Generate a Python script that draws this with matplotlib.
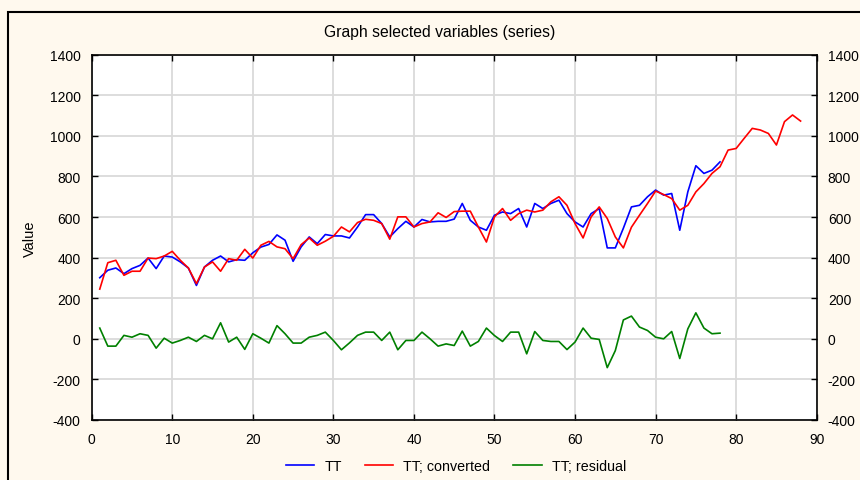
import matplotlib
matplotlib.use("Agg")
import matplotlib.pyplot as plt
from matplotlib.patches import Rectangle

x_max_ticks = [0, 10, 20, 30, 40, 50, 60, 70, 80, 90]
y_ticks = [-400, -200, 0, 200, 400, 600, 800, 1000, 1200, 1400]

tt = [301, 338, 349, 321, 346, 362, 398, 346, 408, 403,
      379, 349, 263, 354, 387, 408, 379, 390, 387, 424,
      452, 465, 512, 486, 382, 453, 502, 469, 514, 507,
      507, 497, 551, 612, 612, 568, 502, 543, 579, 551,
      588, 576, 579, 579, 590, 667, 584, 551, 535, 609,
      625, 617, 642, 551, 667, 642, 667, 683, 617, 576,
      551, 617, 642, 448, 448, 545, 650, 658, 700, 733,
      708, 716, 535, 724, 853, 815, 831, 872]

tt_converted = [245, 375, 387, 313, 333, 333, 398, 395, 408, 431,
                387, 349, 272, 354, 379, 333, 395, 387, 441, 398,
                461, 480, 453, 444, 395, 464, 497, 461, 481, 505,
                551, 527, 573, 589, 584, 568, 491, 601, 601, 551,
                568, 576, 621, 598, 627, 629, 629, 551, 477, 601,
                642, 584, 617, 634, 625, 634, 675, 700, 658, 568,
                497, 601, 650, 593, 502, 448, 550, 609, 667, 728,
                711, 691, 634, 658, 724, 765, 815, 848, 930, 938,
                988, 1037, 1029, 1012, 955, 1070, 1103, 1073]

tt_residual = [53, -36, -36, 17, 8, 25, 17, -46, 3, -21,
               -8, 8, -13, 17, 0, 79, -16, 8, -52, 25,
               3, -21, 65, 25, -21, -21, 8, 17, 33, -8,
               -54, -20, 17, 33, 33, -8, 33, -54, -8, -8,
               33, 0, -36, -25, -33, 38, -36, -13, 53, 16,
               -13, 33, 33, -74, 36, -8, -13, -13, -53, -16,
               53, 3, -3, -142, -58, 93, 112, 58, 41, 8,
               0, 36, -97, 49, 128, 53, 25, 28]

x_tt = list(range(1, len(tt) + 1))
x_conv = list(range(1, len(tt_converted) + 1))
x_res = list(range(1, len(tt_residual) + 1))

plt.rcParams["font.family"] = ["Liberation Sans", "DejaVu Sans"]
plt.rcParams["font.size"] = 10
plt.rcParams["axes.unicode_minus"] = False

bg = "#FFF9EE"
fig = plt.figure(figsize=(8.6, 4.81), dpi=100, facecolor=bg)
ax = fig.add_axes([91.7/860, 1-421/481, (816.7-91.7)/860, (421-55.7)/481])
ax.set_facecolor("white")

ax.plot(x_tt, tt, color="#0000FF", lw=1.2, label="TT", zorder=3)
ax.plot(x_conv, tt_converted, color="#FF0000", lw=1.2, label="TT; converted", zorder=4)
ax.plot(x_res, tt_residual, color="#008000", lw=1.2, label="TT; residual", zorder=3)

ax.set_xlim(0, 90)
ax.set_ylim(-400, 1400)
ax.set_xticks(x_max_ticks)
ax.set_yticks(y_ticks)
ax.grid(True, color="#DADADA", lw=1.3)
ax.set_axisbelow(True)
ax.tick_params(direction="in", length=4, width=1, top=True, right=True,
               labelright=True, labelsize=10, colors="black")
ax.tick_params(axis="y", pad=8)
ax.tick_params(axis="x", pad=9)
for s in ax.spines.values():
    s.set_linewidth(1.2)
    s.set_color("black")

ax.set_ylabel("Value", fontsize=10.5, labelpad=9)
fig.text(0.511, 1-33/481, "Graph selected variables (series)", ha="center",
         va="center", fontsize=11.3)

leg = fig.legend(loc="center", bbox_to_anchor=(0.53, 1-467/481), ncol=3,
                 frameon=False, fontsize=10.3, handlelength=2.0,
                 columnspacing=1.6, handletextpad=0.7)

fig.add_artist(Rectangle((8/860, -0.2), 2, 1.2 - 13/481, transform=fig.transFigure,
                         fill=False, edgecolor="black", lw=1.5, zorder=10))

fig.savefig("out.png", dpi=100, facecolor=bg)
